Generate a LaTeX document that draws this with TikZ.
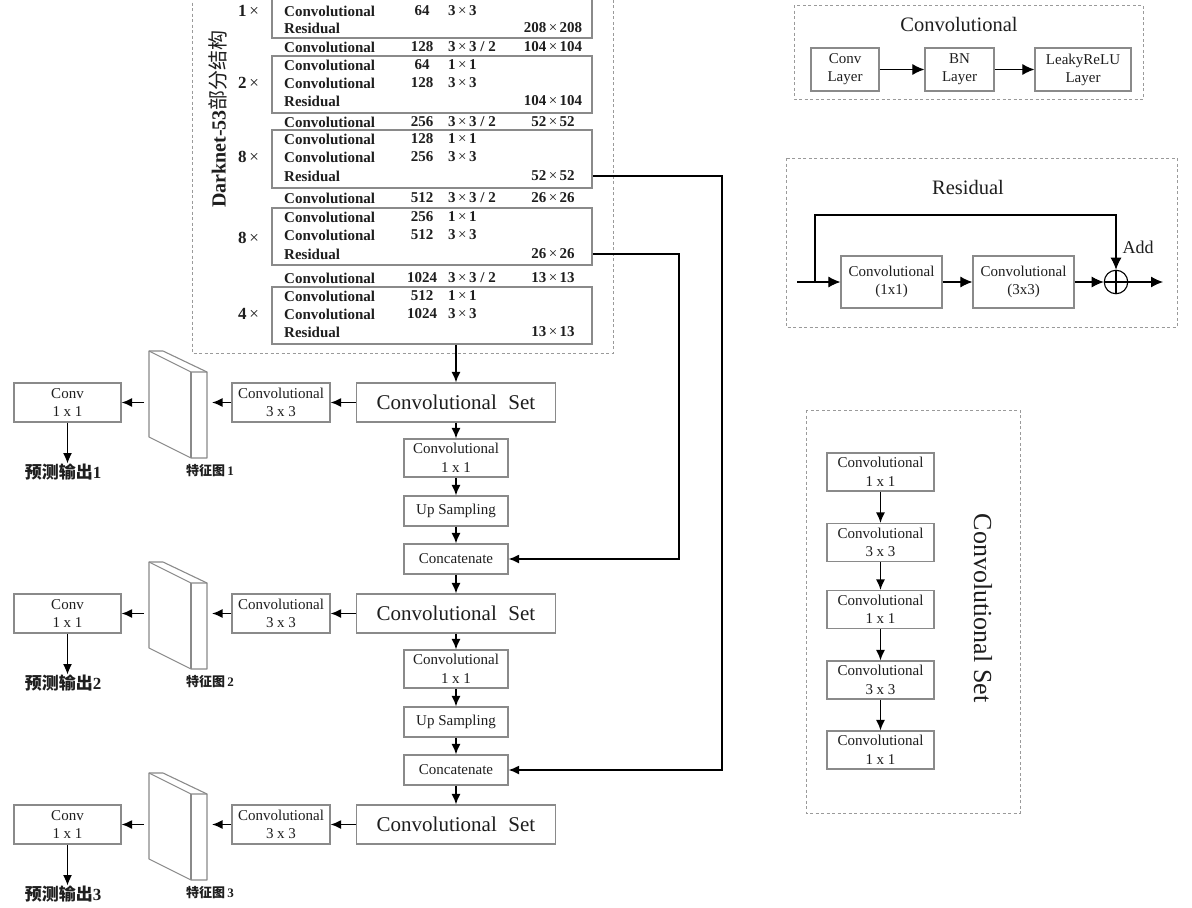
\documentclass[tikz,border=0pt]{standalone}
\usepackage{fontspec}
\setmainfont{Liberation Serif}
\newfontfamily\cjk{Noto Sans CJK SC}
\usetikzlibrary{arrows.meta}
\definecolor{txt}{HTML}{1E1E1E}
\definecolor{boxgray}{HTML}{8A8A8A}
\definecolor{dashgray}{HTML}{9A9A9A}
\tikzset{
  bx/.style={draw=boxgray, line width=1.2pt, fill=white, inner sep=0pt, align=center, text=txt, font=\fontsize{15}{18.5}\selectfont},
  tbox/.style={draw=boxgray, line width=1.2pt, inner sep=0pt},
  arr/.style={-{Latex[length=10.5pt,width=9pt]}, line width=1.5pt, draw=black},
  parr/.style={-{Latex[length=12pt,width=11pt]}, line width=1.1pt, draw=black},
  dbox/.style={draw=dashgray, dash pattern=on 3pt off 2.5pt, line width=1pt},
  tb/.style={font=\fontsize{15}{17}\selectfont\bfseries, text=txt, inner sep=0pt, anchor=west},
  lbl/.style={font=\fontsize{17}{19}\selectfont\bfseries, text=txt, inner sep=0pt},
  slab/.style={draw=boxgray, line width=1.1pt, line join=round},
}
\newcommand\dkrow[5]{%
  \node[tb] (r#1a) at (284,#1) {#2};
  \node[tb,anchor=center] (r#1b) at (422,#1) {#3};
  \node[tb] (r#1c) at (448,#1) {#4};
  \node[tb,anchor=center] (r#1d) at (553,#1) {#5};
}
\newcommand\tx{{\mdseries\,×\,}}
\begin{document}
\begin{tikzpicture}[x=1pt,y=-1pt]
\useasboundingbox (0,0) rectangle (1192,908);
\fill[white] (0,0) rectangle (1192,908);
\clip (0,0) rectangle (1192,908);

% ---------------- Darknet-53 table ----------------
\draw[dbox] (192,-3) rectangle (613,353);
\node[rotate=90, font=\fontsize{20}{22}\selectfont, text=txt, inner sep=0pt] (dkt) at (218,119) {\textbf{Darknet-53}{\cjk 部分结构}};

\node[tbox, minimum width=320, minimum height=41] (b1) at (432,17.5) {};
\node[tbox, minimum width=320, minimum height=57] (b2) at (432,84.5) {};
\node[tbox, minimum width=320, minimum height=58] (b3) at (432,159) {};
\node[tbox, minimum width=320, minimum height=57] (b4) at (432,236.5) {};
\node[tbox, minimum width=320, minimum height=57] (b5) at (432,315.5) {};

\node[lbl] (m1) at (250,11) {1\tx};
\node[lbl] (m2) at (250,83) {2\tx};
\node[lbl] (m3) at (250,157) {8\tx};
\node[lbl] (m4) at (250,238) {8\tx};
\node[lbl] (m5) at (250,314) {4\tx};

\dkrow{11}{Convolutional}{64}{3\tx 3}{}
\dkrow{28}{Residual}{}{}{208\tx 208}
\dkrow{47}{Convolutional}{128}{3\tx 3 / 2}{104\tx 104}
\dkrow{65}{Convolutional}{64}{1\tx 1}{}
\dkrow{83}{Convolutional}{128}{3\tx 3}{}
\dkrow{101}{Residual}{}{}{104\tx 104}
\dkrow{122}{Convolutional}{256}{3\tx 3 / 2}{52\tx 52}
\dkrow{139}{Convolutional}{128}{1\tx 1}{}
\dkrow{157}{Convolutional}{256}{3\tx 3}{}
\dkrow{176}{Residual}{}{}{52\tx 52}
\dkrow{198}{Convolutional}{512}{3\tx 3 / 2}{26\tx 26}
\dkrow{217}{Convolutional}{256}{1\tx 1}{}
\dkrow{235}{Convolutional}{512}{3\tx 3}{}
\dkrow{254}{Residual}{}{}{26\tx 26}
\dkrow{278}{Convolutional}{1024}{3\tx 3 / 2}{13\tx 13}
\dkrow{296}{Convolutional}{512}{1\tx 1}{}
\dkrow{314}{Convolutional}{1024}{3\tx 3}{}
\dkrow{332}{Residual}{}{}{13\tx 13}

% ---------------- prediction rows ----------------
\foreach \k/\d in {1/0,2/211,3/422}{
  \node[bx, minimum width=199, minimum height=39, font=\fontsize{21}{24}\selectfont] (cs\k) at (456,402.5+\d) {Convolutional\hspace{0.55em}Set};
  \node[bx, minimum width=98, minimum height=39] (cc\k) at (281,402.5+\d) {Convolutional\\3 x 3};
  \node[bx, minimum width=107, minimum height=39] (cv\k) at (67.5,402.5+\d) {Conv\\1 x 1};
  \node[lbl, font=\fontsize{17}{19}\selectfont] (out\k) at (63,472+\d) {{\cjk\bfseries 预测输出}\textbf{\k}};
  \node[lbl, font=\fontsize{13}{15}\selectfont] (fm\k) at (210,471+\d) {{\cjk\bfseries 特征图}\,\textbf{\k}};
  \draw[slab, fill=white] (149,351+\d) -- (163,351+\d) -- (207,372+\d) -- (207,458+\d) -- (191,458+\d) -- (149,437+\d) -- cycle;
  \draw[slab] (149,351+\d) -- (191,372+\d) -- (207,372+\d);
  \draw[slab] (191,372+\d) -- (191,458+\d);
  \coordinate (sr\k) at (212,404+\d);
  \coordinate (sl\k) at (144,404+\d);
  \draw[arr] (cs\k.west) -- (cc\k.east);
  \draw[arr] (cc\k.west) -- (sr\k |- cc\k.west);
  \draw[arr] (sl\k |- cv\k.east) -- (cv\k.east);
  \draw[arr] (cv\k.south) -- (cv\k.south |- out\k.north);
}
\foreach \k/\d in {1/0,2/211}{
  \node[bx, minimum width=104, minimum height=38] (ca\k) at (456,458+\d) {Convolutional\\1 x 1};
  \node[bx, minimum width=104, minimum height=30] (up\k) at (456,511+\d) {Up Sampling};
  \node[bx, minimum width=104, minimum height=30] (cat\k) at (456,559+\d) {Concatenate};
  \draw[arr] (cs\k.south) -- (ca\k.north);
  \draw[arr] (ca\k.south) -- (up\k.north);
  \draw[arr] (up\k.south) -- (cat\k.north);
}
\draw[arr] (cat1.south) -- (cs2.north);
\draw[arr] (cat2.south) -- (cs3.north);
\draw[arr] (b5.south -| cs1.north) -- (cs1.north);

% skip connections
\coordinate (j1) at (722,0);
\coordinate (j2) at (679,0);
\draw[arr] (b3.east |- r176a) -- (j1 |- r176a) -- (j1 |- cat2.east) -- (cat2.east);
\draw[arr] (b4.east |- r254a) -- (j2 |- r254a) -- (j2 |- cat1.east) -- (cat1.east);

% ---------------- Convolutional panel ----------------
\draw[dbox] (794,5) rectangle (1143,99);
\node[text=txt, inner sep=0pt, font=\fontsize{20.5}{23}\selectfont] (ct) at (959,24) {Convolutional};
\node[bx, minimum width=68, minimum height=43, font=\fontsize{15}{18}\selectfont] (cl) at (845,69.5) {Conv\\Layer};
\node[bx, minimum width=69, minimum height=43, font=\fontsize{15}{18}\selectfont] (bn) at (959.5,69.5) {BN\\Layer};
\node[bx, minimum width=96, minimum height=43, font=\fontsize{15}{18}\selectfont] (lr) at (1083,69.5) {LeakyReLU\\Layer};
\draw[parr] (cl) -- (bn);
\draw[parr] (bn) -- (lr);

% ---------------- Residual panel ----------------
\draw[dbox] (786,158) rectangle (1177,327);
\node[text=txt, inner sep=0pt, font=\fontsize{20.5}{23}\selectfont] (rt) at (968,187) {Residual};
\node[bx, minimum width=101, minimum height=52] (rc1) at (891.5,282) {Convolutional\\(1x1)};
\node[bx, minimum width=101, minimum height=52] (rc2) at (1023.5,282) {Convolutional\\(3x3)};
\node[draw=black, line width=1.1pt, circle, minimum size=23.5, inner sep=0pt] (plus) at (1116,282) {};
\draw[line width=1.1pt] (plus.north) -- (plus.south) (plus.west) -- (plus.east);
\node[text=txt, inner sep=0pt, font=\fontsize{18}{20}\selectfont] (add) at (1138,247) {Add};
\coordinate (rin) at (797,282);
\coordinate (rbr) at (815,282);
\coordinate (rtop) at (815,215);
\coordinate (rout) at (1163,282);
\draw[parr] (rin) -- (rc1.west);
\draw[parr] (rbr) -- (rtop) -| (plus.north);
\draw[parr] (rc1.east) -- (rc2.west);
\draw[parr] (rc2.east) -- (plus.west);
\draw[parr] (plus.east) -- (rout);

% ---------------- Convolutional Set panel ----------------
\draw[dbox] (806,410) rectangle (1020,813);
\node[bx, minimum width=107, minimum height=38] (s1) at (880.5,472) {Convolutional\\1 x 1};
\node[bx, minimum width=107, minimum height=38] (s2) at (880.5,542.5) {Convolutional\\3 x 3};
\node[bx, minimum width=107, minimum height=38] (s3) at (880.5,609.5) {Convolutional\\1 x 1};
\node[bx, minimum width=107, minimum height=38] (s4) at (880.5,680) {Convolutional\\3 x 3};
\node[bx, minimum width=107, minimum height=38] (s5) at (880.5,750) {Convolutional\\1 x 1};
\draw[arr] (s1) -- (s2);
\draw[arr] (s2) -- (s3);
\draw[arr] (s3) -- (s4);
\draw[arr] (s4) -- (s5);
\node[rotate=-90, text=txt, inner sep=0pt, font=\fontsize{26}{28}\selectfont] (cst) at (983,608) {Convolutional Set};
\end{tikzpicture}
\end{document}
